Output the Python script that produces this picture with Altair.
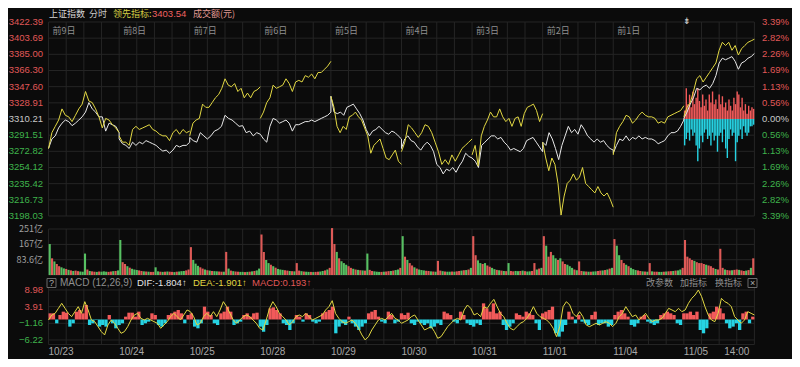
import altair as alt
import pandas as pd

# ---------------- data ----------------
PREV_CLOSE = 3310.21
DATE_LABELS = ["10/23", "10/24", "10/25", "10/28", "10/29", "10/30", "10/31", "11/01", "11/04", "11/05"]
DAY_TAGS = ["前9日", "前8日", "前7日", "前6日", "前5日", "前4日", "前3日", "前2日", "前1日"]
PRICE_TICKS = [3422.39, 3403.69, 3385.00, 3366.30, 3347.60, 3328.91, 3310.21,
               3291.51, 3272.82, 3254.12, 3235.42, 3216.73, 3198.03]
PCT_LABELS = ["3.39%", "2.82%", "2.26%", "1.69%", "1.13%", "0.56%", "0.00%",
              "0.56%", "1.13%", "1.69%", "2.26%", "2.82%", "3.39%"]
VOL_TICKS = [251, 167, 83.6]
VOL_LABELS = ["251亿", "167亿", "83.6亿"]
MACD_TICKS = [8.98, 3.91, -1.16, -6.22]

# 上证指数 (white), one list per trading day
index_close = [
    [3276.1, 3287.1, 3290.7, 3299.9, 3305.4, 3309.0, 3307.2, 3302.5, 3305.4, 3309.0, 3312.7, 3318.2, 3329.2, 3321.9, 3318.2, 3312.7, 3312.7, 3296.2, 3305.4, 3303.6, 3301.7, 3294.4],
    [3287.1, 3281.6, 3279.7, 3276.1, 3283.4, 3279.7, 3283.4, 3281.6, 3285.2, 3283.4, 3281.6, 3279.7, 3276.1, 3273.1, 3274.2, 3270.6, 3274.2, 3279.7, 3277.9, 3279.7, 3279.7, 3283.4],
    [3288.9, 3285.2, 3283.4, 3294.4, 3290.7, 3287.1, 3290.7, 3296.2, 3298.1, 3301.7, 3314.5, 3310.9, 3309.0, 3305.4, 3301.7, 3302.5, 3294.4, 3296.2, 3290.7, 3294.4, 3292.6],
    [3292.6, 3287.1, 3283.4, 3301.7, 3310.9, 3309.0, 3305.4, 3307.2, 3309.0, 3305.4, 3296.2, 3303.6, 3303.6, 3305.4, 3307.2, 3307.2, 3309.0, 3307.2, 3309.0, 3310.9, 3312.7, 3314.5, 3318.2],
    [3336.5, 3318.2, 3316.4, 3318.2, 3314.5, 3323.7, 3325.5, 3327.4, 3321.9, 3316.4, 3309.0, 3298.1, 3290.7, 3296.2, 3298.1, 3301.7, 3298.1, 3294.4, 3292.6, 3296.2, 3294.4, 3290.7, 3287.1],
    [3276.1, 3287.1, 3290.7, 3285.2, 3283.4, 3277.9, 3274.2, 3279.7, 3283.4, 3279.7, 3272.4, 3257.7, 3254.1, 3246.7, 3252.2, 3250.4, 3254.1, 3248.6, 3255.9, 3261.4, 3270.6, 3266.9, 3265.1],
    [3265.1, 3261.4, 3254.1, 3279.7, 3283.4, 3287.1, 3290.7, 3290.7, 3287.1, 3288.9, 3283.4, 3279.7, 3274.2, 3276.1, 3274.2, 3272.4, 3276.1, 3285.2, 3287.1, 3288.9, 3283.4, 3277.9, 3272.4],
    [3283.4, 3279.7, 3294.4, 3287.1, 3276.1, 3263.2, 3279.7, 3290.7, 3301.7, 3294.4, 3298.1, 3292.6, 3303.6, 3298.1, 3290.7, 3287.1, 3283.4, 3287.1, 3283.4, 3285.2, 3279.7, 3276.1, 3274.2],
    [3270.6, 3279.7, 3287.1, 3285.2, 3290.7, 3285.2, 3288.9, 3287.1, 3290.7, 3287.1, 3288.9, 3287.1, 3287.1, 3285.2, 3281.6, 3283.4, 3285.2, 3290.7, 3294.4, 3294.4, 3296.2, 3301.7, 3309.0],
    [3310.9, 3318.2, 3327.4, 3334.7, 3345.7, 3343.9, 3347.5, 3349.4, 3345.7, 3351.2, 3360.4, 3375.0, 3380.5, 3378.7, 3380.5, 3382.4, 3376.9, 3367.7, 3375.0, 3376.9, 3380.5, 3382.4, 3386.0],
]

# 领先指标 (yellow), one list per trading day
lead_index = [
    [3276.1, 3294.4, 3301.7, 3309.0, 3321.9, 3314.5, 3312.7, 3307.2, 3314.5, 3321.9, 3327.4, 3342.0, 3331.0, 3329.2, 3321.9, 3312.7, 3299.9, 3310.9, 3309.0, 3303.6, 3299.9, 3294.4],
    [3290.7, 3283.4, 3283.4, 3279.7, 3298.1, 3301.7, 3298.1, 3299.9, 3301.7, 3303.6, 3298.1, 3296.2, 3292.6, 3290.7, 3290.7, 3285.2, 3294.4, 3298.1, 3292.6, 3298.1, 3294.4, 3296.2],
    [3290.7, 3305.4, 3309.0, 3310.9, 3327.4, 3323.7, 3323.7, 3329.2, 3334.7, 3338.4, 3345.7, 3356.7, 3349.4, 3347.5, 3351.2, 3342.0, 3345.7, 3334.7, 3340.2, 3334.7, 3342.0, 3343.9, 3347.5],
    [3310.9, 3318.2, 3329.2, 3334.7, 3349.4, 3345.7, 3347.5, 3349.4, 3356.7, 3351.2, 3342.0, 3353.0, 3354.9, 3353.0, 3360.4, 3358.5, 3362.2, 3356.7, 3364.0, 3364.0, 3367.7, 3371.4, 3376.9],
    [3336.5, 3323.7, 3301.7, 3294.4, 3301.7, 3298.1, 3312.7, 3314.5, 3318.2, 3312.7, 3309.0, 3299.9, 3290.7, 3270.6, 3279.7, 3283.4, 3287.1, 3276.1, 3265.1, 3263.2, 3268.7, 3274.2, 3261.4, 3257.7],
    [3272.4, 3283.4, 3303.6, 3299.9, 3294.4, 3288.9, 3294.4, 3303.6, 3301.7, 3294.4, 3283.4, 3272.4, 3257.7, 3263.2, 3257.7, 3268.7, 3261.4, 3268.7, 3276.1, 3279.7, 3283.4, 3287.1],
    [3268.7, 3279.7, 3255.9, 3290.7, 3301.7, 3309.0, 3318.2, 3312.7, 3312.7, 3321.9, 3312.7, 3307.2, 3310.9, 3301.7, 3310.9, 3312.7, 3301.7, 3316.4, 3323.7, 3325.5, 3327.4, 3320.0, 3307.2, 3316.4],
    [3283.4, 3265.1, 3250.4, 3265.1, 3257.7, 3235.7, 3199.1, 3221.1, 3235.7, 3239.4, 3246.7, 3239.4, 3243.1, 3254.1, 3235.7, 3232.1, 3228.4, 3224.7, 3232.1, 3224.7, 3221.1, 3224.7, 3217.4, 3208.2],
    [3268.7, 3294.4, 3301.7, 3307.2, 3314.5, 3312.7, 3305.4, 3309.0, 3314.5, 3318.2, 3314.5, 3312.7, 3312.7, 3310.9, 3305.4, 3307.2, 3305.4, 3312.7, 3314.5, 3316.4, 3318.2, 3320.0, 3325.5],
    [3312.7, 3323.7, 3329.2, 3342.0, 3356.7, 3360.4, 3353.0, 3358.5, 3364.0, 3369.5, 3375.0, 3389.7, 3398.9, 3395.2, 3398.9, 3389.7, 3395.2, 3384.2, 3391.5, 3395.2, 3398.9, 3400.7, 3402.5],
]

# today's buy / sell strength bars (drawn from the previous close)
buy_power = [3320.0, 3345.7, 3327.4, 3338.4, 3323.7, 3342.0, 3327.4, 3334.7, 3345.7, 3331.0, 3323.7, 3338.4, 3325.5, 3332.9, 3320.0,
             3338.4, 3329.2, 3342.0, 3327.4, 3332.9, 3321.9, 3338.4, 3327.4, 3336.5, 3323.7, 3329.2, 3320.0, 3332.9, 3325.5, 3320.0,
             3334.7, 3327.4, 3342.0, 3338.4, 3323.7, 3334.7, 3320.0, 3327.4, 3316.4, 3325.5, 3320.0, 3323.7, 3321.9]
sell_power = [3279.7, 3287.1, 3294.4, 3285.2, 3298.1, 3290.7, 3294.4, 3279.7, 3261.4, 3276.1, 3290.7, 3283.4, 3294.4, 3298.1, 3287.1,
              3290.7, 3279.7, 3294.4, 3285.2, 3290.7, 3272.4, 3290.7, 3294.4, 3283.4, 3298.1, 3276.1, 3265.1, 3287.1, 3298.1, 3290.7,
              3294.4, 3261.4, 3283.4, 3290.7, 3298.1, 3287.1, 3301.7, 3294.4, 3290.7, 3294.4, 3301.7, 3301.7, 3303.6]

# turnover (亿元), one list per day
turnover = [
    [169, 91, 74, 60, 48, 42, 36, 33, 28, 25, 22, 24, 21, 19, 18, 117, 30, 22, 20, 18, 17, 19, 18, 20, 18, 17, 19, 21, 22, 25],
    [191, 70, 60, 48, 40, 34, 30, 27, 25, 22, 20, 19, 18, 17, 17, 42, 20, 18, 17, 18, 19, 18, 17, 16, 18, 19, 21, 22, 25, 30],
    [152, 82, 62, 50, 42, 35, 30, 26, 24, 22, 21, 20, 19, 18, 18, 126, 35, 24, 21, 19, 18, 17, 17, 16, 17, 18, 20, 22, 25, 35],
    [221, 125, 82, 65, 56, 48, 40, 33, 30, 28, 26, 24, 22, 21, 20, 65, 24, 21, 19, 18, 17, 17, 16, 17, 18, 19, 22, 25, 30, 39],
    [256, 169, 126, 91, 75, 65, 56, 48, 39, 34, 30, 28, 26, 25, 24, 117, 28, 22, 20, 18, 17, 17, 18, 19, 21, 22, 24, 27, 30, 39],
    [212, 100, 82, 65, 52, 42, 35, 30, 27, 25, 23, 22, 20, 19, 18, 77, 24, 21, 19, 18, 18, 19, 18, 20, 22, 24, 26, 27, 30, 39],
    [212, 108, 80, 65, 60, 65, 52, 45, 39, 32, 28, 26, 24, 22, 21, 65, 22, 20, 22, 21, 22, 24, 21, 19, 20, 22, 65, 30, 35, 39],
    [212, 160, 100, 126, 108, 91, 82, 91, 74, 60, 56, 48, 39, 30, 26, 74, 22, 20, 19, 18, 18, 19, 20, 22, 24, 25, 27, 30, 35, 39],
    [196, 160, 108, 82, 65, 56, 48, 39, 32, 27, 25, 22, 20, 19, 18, 65, 20, 18, 18, 17, 17, 18, 19, 20, 21, 22, 24, 25, 30, 39],
    [191, 100, 91, 82, 77, 70, 65, 65, 60, 56, 52, 48, 39, 33, 30, 143, 39, 30, 27, 25, 26, 28, 30, 28, 25, 22, 24, 27, 39, 91],
]
turnover_dir = [
    "grgrrggrgrgrrgggrgrrgrgggrrgrg",
    "grrgrgggrrgrgrrggrgrgrrgrgggrr",
    "rgggrrgrgrggrrgrgrgrrggrgrgrgg",
    "rrggrgrgggrrgrgrrgrggrgrrggrgr",
    "rrgrgggrrgrgrgrgrrgggrgrrgrggr",
    "grgrrgrgggrrgrgrrgrggrgrrgrgrg",
    "rrggrgrrggrgrgrgrrggrgrggrrgrg",
    "rgrrggrgrrgggrgrrgrgrggrrgrgrg",
    "rggrrgrgggrrgrgrgrrggrgrrgrggr",
    "rrrrgrrrrgrrrgrrrgrrgrrgrrgrgr",
]

# MACD: DEA line and histogram across the 10 days
macd_dea = [
    -0.15, 1.37, 1.87, 3.39, 4.91, 3.39, 1.87, 0.86, 2.38, 3.90, 1.87, 5.42, 2.89, -0.15, -0.66, -2.17, -3.69, -4.70, -1.67, -0.15,
    -1.16, -2.68, -4.20, -3.69, -2.17, -0.15, 1.37, 1.87, 0.35, -0.15, 0.35, -0.15, -0.66, -1.16, -2.68, -1.67, -0.66, 0.86, 1.87, 0.86,
    -0.15, 1.37, 2.89, 2.38, 0.86, -1.67, -1.16, 0.86, 1.87, 0.86, 2.38, 0.86, 2.89, 5.42, 3.90, 1.87, -0.15, -1.16, -0.15, 0.86,
    1.37, 0.86, -0.15, -1.16, -2.68, -3.19, -0.15, 3.39, 5.42, 3.90, 1.87, 0.86, -0.15, -1.67, -0.66, 0.86, 1.37, 0.86, 1.87, 0.86,
    -0.15, 0.35, 0.86, 1.37, 2.89, 3.90, 5.72, 1.87, 0.35, -0.66, -1.16, -0.66, -0.15, -1.16, -2.68, -4.70, -6.22, -5.21, -3.19, -1.67,
    -0.15, 0.35, -0.15, 0.86, 1.87, 0.35, -0.15,
    -1.16, -0.66, -0.15, 0.86, 1.37, -0.15, -1.67, -3.19, -2.68, -2.17, -3.69, -5.72, -5.21, -3.69, -2.17, -1.16, -0.15, 0.35, -0.15, 2.89,
    4.40, 3.39, 1.37, 1.87, 0.86, 3.90, 3.39, 4.91, 6.12, 3.90, 1.87, 0.86, -1.16, -2.68, -3.19, -2.17, -1.16, -0.66, 0.35, 1.87,
    3.90, 1.87, 0.86, 0.35, -0.15, -1.16, -2.68, -5.21, -2.17, 3.90, 5.42, 4.40, 1.87, 0.86, 2.38, 0.86, -1.67, -2.17, -1.67, -1.16,
    -1.67, -1.16, -0.66, -1.16, -2.17, -1.16, 0.86, 1.87, 3.90, 2.38, 0.86, 1.37, -0.15, 0.86, 1.87, 0.35, -0.66, -0.15, -0.15, 0.35,
    1.87, 3.39, 2.89, 2.38, 3.39, 2.38, 2.89, 4.91, 6.43, 7.44, 8.96, 6.93, 3.90, 1.37, -0.15, -0.66, 1.87, 6.43, 5.42, 4.91,
    3.90, 0.86, -0.15, -1.16, -0.15, 2.38, 1.87, 1.37,
]
macd_hist = [
    1.87, 1.87, -1.16, 1.37, 2.38, 2.07, -2.17, -1.16, 2.38, 2.89, 1.87, 4.40, -1.67, -1.16, -0.15, -2.17, -1.67, -2.17, 1.37, -1.16,
    -2.68, -1.67, -1.16, 0.86, 2.07, 2.07, 0.86, 2.38, -1.67, -1.16, -0.66, 1.87, 1.37, -1.67, -2.17, -1.16, 1.37, 1.87, 2.38, 2.89,
    1.87, -1.16, 1.37, 1.87, -2.17, -2.68, -1.16, 3.90, 2.38, 1.37, -1.16, -1.67, 1.87, 2.38, 3.90, 2.38, -1.67, -1.16, -0.66, 1.37,
    1.87, 0.86, 1.87, 2.07, -2.17, -3.69, -1.67, 3.39, 3.69, 2.89, 1.87, -1.16, -1.67, -3.19, -1.16, 1.37, 0.86, -0.66, 1.87, 1.37,
    -0.66, -1.16, -0.66, 1.87, 2.38, 2.89, 3.90, -4.20, -2.17, -1.16, -1.67, 0.86, -1.16, -2.17, -3.19, -2.17, -1.16, 1.87, 2.38, 2.89,
    0.86, -0.66, -1.16, 2.38, 1.37, -1.16, -0.66,
    1.87, 1.37, 2.07, -1.16, -1.67, -0.66, -1.16, -1.67, -1.16, -2.68, -2.17, -1.16, -1.67, 2.38, 1.87, 1.37, -0.66, -1.16, 2.38, 1.37,
    -1.16, -1.67, -2.17, -1.16, -1.67, 4.91, 3.39, 2.38, 4.91, 1.87, 2.38, -1.67, -3.19, -2.17, -1.16, 1.87, 1.37, 0.86, 2.38, 1.87,
    1.37, -1.16, -3.19, 1.87, 2.38, 2.89, 3.90, -4.20, -5.21, -3.69, -1.67, 2.38, 0.86, -1.16, 1.37, -0.66, -1.16, -1.67, 1.37, 2.38,
    -1.67, -1.16, -1.16, -2.17, -1.67, 1.37, 2.38, 2.89, 1.87, 0.86, -1.67, -2.17, -1.16, 0.86, 1.37, -0.66, -1.16, -1.67, -1.16, 1.37,
    1.87, 2.38, 1.87, 1.37, -1.16, -1.67, 1.87, 1.87, 2.38, 1.37, 2.38, -3.19, -4.20, -2.68, 1.87, 2.38, 3.90, 3.39, 1.87, -1.16,
    -2.68, -2.17, -1.16, -3.19, 1.87, 2.38, -1.16, 0.86,
]

# ---------------- frames ----------------
DAY_MIN = 240
rows, k = [], 0
for d, vals in enumerate(index_close):
    n = len(vals)
    for i, v in enumerate(vals):
        rows.append({"t": DAY_MIN * d + DAY_MIN * i / (n - 1), "v": v, "k": k})
        k += 1
white_df = pd.DataFrame(rows)

rows, k = [], 0
for d, vals in enumerate(lead_index):
    n = len(vals)
    for i, v in enumerate(vals):
        rows.append({"t": DAY_MIN * d + DAY_MIN * i / (n - 1), "v": v, "day": d, "k": k})
        k += 1
yellow_df = pd.DataFrame(rows)

rows = []
nb = len(buy_power)
for i in range(nb):
    t = 9 * DAY_MIN + DAY_MIN * (i + 0.5) / nb
    rows.append({"t": t, "v": buy_power[i], "kind": "up"})
    rows.append({"t": t, "v": sell_power[i], "kind": "dn"})
power_df = pd.DataFrame(rows)

rows = []
for d, vals in enumerate(turnover):
    n = len(vals)
    s = turnover_dir[d]
    for i, v in enumerate(vals):
        rows.append({"t": DAY_MIN * d + DAY_MIN * (i + 0.5) / n, "v": v, "c": s[i % len(s)]})
vol_df = pd.DataFrame(rows)

N = len(macd_dea)
dea_df = pd.DataFrame({"t": [10 * DAY_MIN * i / (N - 1) for i in range(N)], "v": macd_dea})
M = len(macd_hist)
hist_df = pd.DataFrame({"t": [10 * DAY_MIN * (i + 0.5) / M for i in range(M)], "v": macd_hist})

hours_df = pd.DataFrame({"t": list(range(0, 10 * DAY_MIN + 1, 60))})
tags_df = pd.DataFrame({"t": [DAY_MIN * i for i in range(len(DAY_TAGS))], "s": DAY_TAGS})
dates_df = pd.DataFrame({"t": [DAY_MIN * i for i in range(len(DATE_LABELS))], "s": DATE_LABELS})
price_df = pd.DataFrame({"p": PRICE_TICKS, "pct": PCT_LABELS})
volt_df = pd.DataFrame({"v": VOL_TICKS, "s": VOL_LABELS})
macdt_df = pd.DataFrame({"v": MACD_TICKS})

# ---------------- styling ----------------
BG = "#0b0b0b"
GRID = "#252525"
GRID_MID = "#3c3c3c"
RED = "#f25a5a"
CYAN = "#26d3e3"
YELLOW = "#e2d843"
WHITE = "#e8e8e8"
LRED = "#e05858"
LGREEN = "#3fb34c"
LGRAY = "#c8c8c8"
GRAY = "#8f8f8f"
VRED = "#de5a57"
VGREEN = "#57c062"
CJK = "Noto Sans CJK SC"
LAT = "Liberation Sans"

# x: minutes over 10 sessions; the plot spans the whole canvas, data 0..2400 min
X = alt.Scale(domain=[-120.84, 2510.77], nice=False, zero=False)
Y_MAIN = alt.Scale(domain=[3191.09, 3438.58], nice=False, zero=False)
Y_VOL = alt.Scale(domain=[-5.46, 289.2], nice=False, zero=False)
Y_MACD = alt.Scale(domain=[-12.01, 13.22], nice=False, zero=False)
W = 784


def xq(field="t"):
    return alt.X(f"{field}:Q", scale=X, axis=None)


def tx(s, x, y, color, size=10, align="left", font=CJK):
    return alt.Chart(pd.DataFrame({"s": [s]})).mark_text(
        align=align, baseline="middle", font=font, fontSize=size, color=color
    ).encode(x=alt.value(x), y=alt.value(y), text="s:N")


def box(x1, x2, y1, y2):
    return alt.Chart(pd.DataFrame({"s": [0]})).mark_rect(
        fillOpacity=0, stroke="#6a6a6a", strokeWidth=1
    ).encode(x=alt.value(x1), x2=alt.value(x2), y=alt.value(y1), y2=alt.value(y2))


# ---------------- main panel ----------------
m_vgrid = alt.Chart(hours_df).mark_rule(color=GRID).encode(
    x=xq(), y=alt.Y(datum=3422.39, scale=Y_MAIN, axis=None), y2=alt.Y2(datum=3198.03))
m_hgrid = alt.Chart(price_df).mark_rule().encode(
    y=alt.Y("p:Q", scale=Y_MAIN, axis=None),
    x=alt.X(datum=0, scale=X, axis=None), x2=alt.X2(datum=10 * DAY_MIN),
    color=alt.condition(f"abs(datum.p - {PREV_CLOSE}) < 0.01", alt.value(GRID_MID), alt.value(GRID)))
m_power = alt.Chart(power_df).mark_bar(size=1.4).encode(
    x=xq(), y=alt.Y("v:Q", scale=Y_MAIN, axis=None), y2=alt.Y2(datum=PREV_CLOSE),
    color=alt.Color("kind:N", scale=alt.Scale(domain=["up", "dn"], range=[RED, CYAN]), legend=None))
m_white = alt.Chart(white_df).mark_line(color=WHITE, strokeWidth=1).encode(
    x=xq(), y=alt.Y("v:Q", scale=Y_MAIN, axis=None), order="k:Q")
m_yellow = alt.Chart(yellow_df).mark_line(color=YELLOW, strokeWidth=1).encode(
    x=xq(), y=alt.Y("v:Q", scale=Y_MAIN, axis=None), detail="day:N", order="k:Q")
side_expr = (f"datum.p > {PREV_CLOSE} + 0.01 ? 'up' : (datum.p < {PREV_CLOSE} - 0.01 ? 'dn' : 'eq')")
side_color = alt.Color("side:N", scale=alt.Scale(domain=["up", "eq", "dn"], range=[LRED, LGRAY, LGREEN]), legend=None)
m_left = alt.Chart(price_df).transform_calculate(
    lab="format(datum.p, '.2f')", side=side_expr
).mark_text(align="right", baseline="middle", font=LAT, fontSize=9.5).encode(
    x=alt.value(35), y=alt.Y("p:Q", scale=Y_MAIN, axis=None), text="lab:N", color=side_color)
m_right = alt.Chart(price_df).transform_calculate(side=side_expr).mark_text(
    align="left", baseline="middle", font=LAT, fontSize=9.5).encode(
    x=alt.value(754), y=alt.Y("p:Q", scale=Y_MAIN, axis=None), text="pct:N", color=side_color)
m_tags = alt.Chart(tags_df).mark_text(
    align="left", baseline="middle", font=CJK, fontSize=9, color=GRAY, dx=4).encode(
    x=xq(), y=alt.value(23), text="s:N")

main = alt.layer(
    m_vgrid, m_hgrid, m_power, m_white, m_yellow, m_left, m_right, m_tags,
    tx("上证指数", 41, 6, "#d6d6d6", 9),
    tx("分时", 81, 6, "#c8c8c8", 9),
    tx("领先指标:", 105, 6, "#d4d044", 9),
    tx("3403.54", 144, 6, "#f06262", 9.5, font=LAT),
    tx("成交额(元)", 185, 6, "#e09a94", 9),
    tx("⇟", 679, 13, "#d0d0d0", 9, "center"),
).resolve_scale(color="independent").properties(width=W, height=214)

# ---------------- volume panel ----------------
v_vgrid = alt.Chart(hours_df).mark_rule(color=GRID).encode(
    x=xq(), y=alt.Y(datum=251, scale=Y_VOL, axis=None), y2=alt.Y2(datum=0))
v_hgrid = alt.Chart(pd.DataFrame({"v": VOL_TICKS + [0]})).mark_rule(color=GRID).encode(
    y=alt.Y("v:Q", scale=Y_VOL, axis=None),
    x=alt.X(datum=0, scale=X, axis=None), x2=alt.X2(datum=10 * DAY_MIN))
v_bars = alt.Chart(vol_df).mark_bar(size=2.1).encode(
    x=xq(), y=alt.Y("v:Q", scale=Y_VOL, axis=None), y2=alt.Y2(datum=0),
    color=alt.Color("c:N", scale=alt.Scale(domain=["r", "g"], range=[VRED, VGREEN]), legend=None))
v_labels = alt.Chart(volt_df).mark_text(
    align="right", baseline="middle", font=CJK, fontSize=9, color="#a0a0a0").encode(
    x=alt.value(35), y=alt.Y("v:Q", scale=Y_VOL, axis=None), text="s:N")

vol = alt.layer(v_vgrid, v_hgrid, v_bars, v_labels).properties(width=W, height=54)

# ---------------- MACD panel ----------------
c_vgrid = alt.Chart(hours_df).mark_rule(color=GRID).encode(
    x=xq(), y=alt.Y(datum=9.6, scale=Y_MACD, axis=None), y2=alt.Y2(datum=-7.6))
c_hgrid = alt.Chart(pd.DataFrame({"v": MACD_TICKS + [-7.6]})).mark_rule(color=GRID).encode(
    y=alt.Y("v:Q", scale=Y_MACD, axis=None),
    x=alt.X(datum=0, scale=X, axis=None), x2=alt.X2(datum=10 * DAY_MIN))
c_hist = alt.Chart(hist_df).transform_calculate(
    s="datum.v >= 0 ? 'up' : 'dn'").mark_bar(size=3.3).encode(
    x=xq(), y=alt.Y("v:Q", scale=Y_MACD, axis=None), y2=alt.Y2(datum=0),
    color=alt.Color("s:N", scale=alt.Scale(domain=["up", "dn"], range=[RED, CYAN]), legend=None))
c_dea = alt.Chart(dea_df).mark_line(color=YELLOW, strokeWidth=1).encode(
    x=xq(), y=alt.Y("v:Q", scale=Y_MACD, axis=None))
c_labels = alt.Chart(macdt_df).transform_calculate(
    lab="format(datum.v, '.2f')", s="datum.v >= 0 ? 'up' : 'dn'").mark_text(
    align="right", baseline="middle", font=LAT, fontSize=9.5).encode(
    x=alt.value(35), y=alt.Y("v:Q", scale=Y_MACD, axis=None), text="lab:N",
    color=alt.Color("s:N", scale=alt.Scale(domain=["up", "dn"], range=[LRED, LGREEN]), legend=None))
c_dates = alt.Chart(dates_df).mark_text(
    align="left", baseline="middle", font=LAT, fontSize=10, color="#a8a8a8").encode(
    x=xq(), y=alt.value(76), text="s:N")
c_time = alt.Chart(pd.DataFrame({"t": [9 * DAY_MIN + 180], "s": ["14:00"]})).mark_text(
    align="center", baseline="middle", font=LAT, fontSize=10, color="#a8a8a8").encode(
    x=xq(), y=alt.value(76), text="s:N")

macd = alt.layer(
    c_vgrid, c_hgrid, c_hist, c_dea, c_labels, c_dates, c_time,
    box(39, 48, 2.5, 11.5),
    tx("?", 43.5, 7, "#b0b0b0", 9, "center", LAT),
    tx("MACD (12,26,9)", 52, 7, GRAY, 10, font=LAT),
    tx("DIF:-1.804↑", 129, 7, "#e6e6e6", 9.5, font=LAT),
    tx("DEA:-1.901↑", 185, 7, YELLOW, 9.5, font=LAT),
    tx("MACD:0.193↑", 244, 7, LRED, 9.5, font=LAT),
    tx("改参数", 638, 7, GRAY, 9),
    tx("加指标", 672, 7, GRAY, 9),
    tx("换指标", 707, 7, GRAY, 9),
    box(740, 749, 2.5, 11.5),
    tx("×", 744.5, 7, "#b0b0b0", 9, "center", LAT),
).resolve_scale(color="independent").properties(width=W, height=83)

chart = alt.vconcat(main, vol, macd, spacing=0).properties(
    padding=0, background=BG
).configure_view(strokeWidth=0)

chart.save("out.html", embed_options={"renderer": "svg", "actions": False})
